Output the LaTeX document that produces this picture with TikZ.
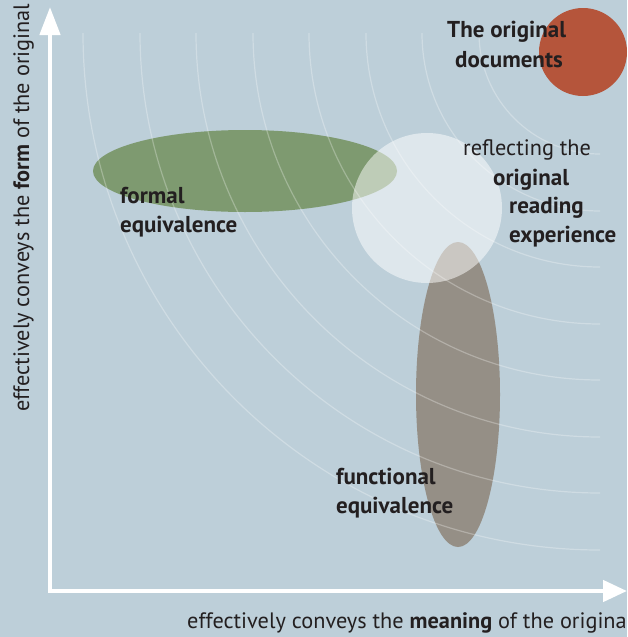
\documentclass[tikz,border=0pt]{standalone}
\usepackage{fontspec}
\setmainfont{PT Sans}
\usepackage{xcolor}
\usetikzlibrary{arrows.meta}

\definecolor{paper}{HTML}{BDCFD9}
\definecolor{formalgreen}{HTML}{7E9A70}
\definecolor{functgray}{HTML}{958F86}
\definecolor{origred}{HTML}{B5553B}
\definecolor{ink}{HTML}{231F20}

\begin{document}
\begin{tikzpicture}[x=1pt,y=-1pt,
    every node/.style={inner sep=0pt,text=ink,font=\fontsize{22.3}{24}\selectfont},
    lbl/.style={anchor=base west,font=\fontsize{23}{25}\selectfont\bfseries},
    axis/.style={white,line width=4.5pt}]
  \fill[paper] (0,0) rectangle (627,637);
  \useasboundingbox (0,0) rectangle (627,637);

  % the three approaches
  \fill[formalgreen] (245,171) ellipse [x radius=152pt,y radius=41pt];
  \fill[functgray] (458,394.5) ellipse [x radius=42pt,y radius=152.5pt];
  \fill[white,opacity=0.5] (427,208) circle [radius=75pt];
  \fill[origred] (583,52) circle [radius=44pt];

  % rings round the original
  \begin{scope}
    \clip (0,33) rectangle (600,637);
    \foreach \r in {121,178,234,291,347,404,460,517}
      \draw[white,opacity=0.28,line width=1.2pt] (600,33) circle [radius=\r pt];
  \end{scope}

  % axes
  \coordinate (origin) at (50,591);
  \coordinate (ytip) at (50,7);
  \coordinate (xtip) at (627,591);
  \draw[axis,-{Triangle[width=20pt,length=28pt]}] (origin) -- (ytip);
  \draw[axis,-{Triangle[width=21pt,length=24pt]}] ([xshift=-2.25pt]origin) -- (xtip);

  \node[anchor=base west] (xlabel) at (187,628)
    {effectively conveys the \textbf{meaning} of the original};
  \node[anchor=base west,rotate=90] (ylabel) at (29,412)
    {effectively conveys the \textbf{form} of the original};

  % labels
  \node[lbl] (orig1) at (447,37) {The original};
  \node[lbl] (orig2) at (455,67) {documents};
  \node[anchor=base west] (refl) at (463,155) {reflecting the};
  \node[lbl] (refl1) at (493,185) {original};
  \node[lbl] (refl2) at (509,213) {reading};
  \node[lbl] (refl3) at (509,242) {experience};
  \node[lbl] (formal1) at (120,203) {formal};
  \node[lbl] (formal2) at (120,232) {equivalence};
  \node[lbl] (funct1) at (336,484) {functional};
  \node[lbl] (funct2) at (336,513) {equivalence};
\end{tikzpicture}
\end{document}
